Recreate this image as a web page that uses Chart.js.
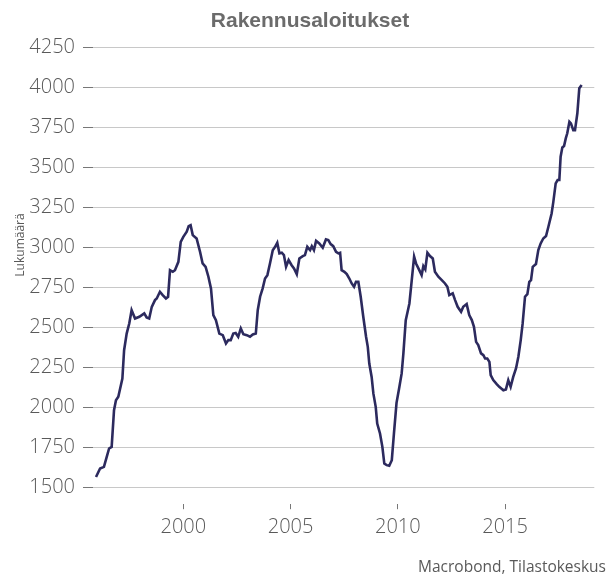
<!DOCTYPE html>
<html>
<head>
<meta charset="utf-8">
<title>Rakennusaloitukset</title>
<script src="https://cdn.jsdelivr.net/npm/chart.js@4.4.0/dist/chart.umd.min.js"></script>
<style>
  html, body { margin: 0; padding: 0; background: #fff; }
</style>
</head>
<body>
<canvas id="chart" width="616" height="579"></canvas>
<script>
// Rakennusaloitukset (luettu kuvasta), x = vuosi desimaaleina
const years = [
  1995.93, 1996.12, 1996.30, 1996.43, 1996.54, 1996.66, 1996.77, 1996.86, 1996.97, 1997.16,
  1997.24, 1997.36, 1997.48, 1997.59, 1997.75, 1997.95, 1998.18, 1998.29, 1998.41, 1998.53,
  1998.68, 1998.76, 1998.91, 1999.04, 1999.19, 1999.29, 1999.38, 1999.51, 1999.61, 1999.77,
  1999.88, 2000.00, 2000.16, 2000.25, 2000.34, 2000.44, 2000.62, 2000.78, 2000.90, 2001.04,
  2001.17, 2001.29, 2001.40, 2001.52, 2001.68, 2001.84, 2001.99, 2002.10, 2002.21, 2002.33,
  2002.44, 2002.56, 2002.68, 2002.80, 2002.96, 2003.11, 2003.24, 2003.38, 2003.47, 2003.58,
  2003.70, 2003.81, 2003.92, 2004.04, 2004.17, 2004.28, 2004.38, 2004.48, 2004.59, 2004.69,
  2004.79, 2004.91, 2005.05, 2005.16, 2005.29, 2005.41, 2005.57, 2005.67, 2005.78, 2005.91,
  2005.99, 2006.09, 2006.19, 2006.34, 2006.50, 2006.65, 2006.76, 2006.87, 2006.99, 2007.12,
  2007.23, 2007.31, 2007.38, 2007.51, 2007.62, 2007.74, 2007.85, 2007.96, 2008.05, 2008.16,
  2008.27, 2008.39, 2008.52, 2008.60, 2008.67, 2008.78, 2008.86, 2008.97, 2009.04, 2009.17,
  2009.28, 2009.37, 2009.48, 2009.60, 2009.72, 2009.82, 2009.94, 2010.06, 2010.18, 2010.26,
  2010.37, 2010.49, 2010.54, 2010.65, 2010.76, 2010.85, 2011.00, 2011.11, 2011.19, 2011.28,
  2011.38, 2011.50, 2011.63, 2011.73, 2011.89, 2012.05, 2012.20, 2012.31, 2012.40, 2012.56,
  2012.67, 2012.79, 2012.95, 2013.05, 2013.21, 2013.33, 2013.45, 2013.55, 2013.65, 2013.75,
  2013.88, 2013.99, 2014.07, 2014.17, 2014.27, 2014.33, 2014.45, 2014.61, 2014.73, 2014.92,
  2015.04, 2015.15, 2015.26, 2015.38, 2015.51, 2015.62, 2015.73, 2015.82, 2015.93, 2016.04,
  2016.13, 2016.21, 2016.29, 2016.44, 2016.55, 2016.66, 2016.78, 2016.91, 2017.02, 2017.17,
  2017.25, 2017.36, 2017.45, 2017.53, 2017.59, 2017.67, 2017.75, 2017.83, 2017.90, 2018.00,
  2018.07, 2018.18, 2018.26, 2018.37, 2018.46, 2018.57
];
const starts = [
  1567, 1620, 1630, 1693, 1745, 1755, 1984, 2047, 2068, 2182,
  2359, 2463, 2526, 2609, 2557, 2568, 2589, 2564, 2557, 2630,
  2672, 2682, 2724, 2703, 2682, 2693, 2859, 2849, 2859, 2911,
  3036, 3067, 3099, 3134, 3140, 3078, 3057, 2974, 2901, 2880,
  2818, 2745, 2578, 2547, 2463, 2453, 2401, 2422, 2422, 2463,
  2467, 2443, 2495, 2459, 2453, 2443, 2457, 2463, 2609, 2693,
  2745, 2807, 2828, 2901, 2984, 3005, 3030, 2964, 2968, 2953,
  2880, 2922, 2890, 2870, 2834, 2932, 2947, 2953, 3005, 2984,
  3009, 2984, 3042, 3026, 2999, 3051, 3047, 3022, 3009, 2974,
  2964, 2968, 2859, 2849, 2834, 2807, 2776, 2755, 2786, 2786,
  2693, 2568, 2443, 2380, 2276, 2192, 2089, 2005, 1901, 1839,
  1755, 1651, 1641, 1637, 1672, 1839, 2030, 2120, 2214, 2339,
  2547, 2620, 2651, 2797, 2943, 2901, 2859, 2828, 2884, 2864,
  2968, 2947, 2932, 2849, 2818, 2797, 2776, 2755, 2703, 2714,
  2672, 2630, 2599, 2630, 2647, 2578, 2547, 2505, 2411, 2391,
  2339, 2328, 2307, 2307, 2286, 2203, 2172, 2147, 2130, 2109,
  2114, 2172, 2130, 2192, 2245, 2318, 2422, 2526, 2693, 2709,
  2786, 2797, 2880, 2897, 2984, 3026, 3057, 3072, 3130, 3213,
  3286, 3401, 3422, 3422, 3568, 3626, 3635, 3682, 3714, 3786,
  3776, 3734, 3734, 3839, 3995, 4016
];
const yTicks = [1500, 1750, 2000, 2250, 2500, 2750, 3000, 3250, 3500, 3750, 4000, 4250];
const xTicks = [2000, 2005, 2010, 2015];

const titleText = 'Rakennusaloitukset';
const yTitle = 'Lukumäärä';
const sourceText = 'Macrobond, Tilastokeskus';

const labelFont = { family: "'Open Sans', sans-serif", size: 20, weight: '300' };
const textColor = '#595959';

// otsikko, y-akselin nimi ja lähde piirretään itse
const texts = {
  id: 'texts',
  afterDraw(chart) {
    const c = chart.ctx;
    c.save();
    c.fillStyle = '#6b6b6b';
    c.font = "bold 21px 'Liberation Sans', Arial, sans-serif";
    c.textAlign = 'center';
    c.textBaseline = 'alphabetic';
    c.fillText(titleText, 310, 27);

    c.fillStyle = textColor;
    c.font = "15.5px 'Open Sans', sans-serif";
    c.textAlign = 'right';
    c.fillText(sourceText, 606, 572);

    c.translate(24, 245);
    c.rotate(-Math.PI / 2);
    c.font = "12px 'Open Sans', sans-serif";
    c.textAlign = 'center';
    c.fillText(yTitle, 0, 0);
    c.restore();
  }
};

new Chart(document.getElementById('chart'), {
  type: 'line',
  data: {
    datasets: [{
      data: years.map((x, i) => ({ x: x, y: starts[i] })),
      borderColor: '#2c2a5e',
      borderWidth: 2.6,
      pointRadius: 0,
      tension: 0,
      fill: false
    }]
  },
  options: {
    responsive: false,
    animation: false,
    devicePixelRatio: 1,
    layout: { padding: { top: 47.5, right: 21.7, bottom: 21.8, left: 0 } },
    plugins: {
      legend: { display: false },
      tooltip: { enabled: false },
      title: { display: false }
    },
    scales: {
      x: {
        type: 'linear',
        min: 1995.79,
        max: 2019.16,
        afterBuildTicks: s => { s.ticks = xTicks.map(v => ({ value: v })); },
        afterFit: s => { s.height = 53; },
        border: { display: false },
        grid: { drawOnChartArea: false, drawTicks: true, tickLength: 5, tickColor: '#777' },
        ticks: { font: labelFont, color: textColor, padding: 6, maxRotation: 0, callback: v => String(v) }
      },
      y: {
        min: 1397,
        max: 4250,
        afterBuildTicks: s => { s.ticks = yTicks.map(v => ({ value: v })); },
        afterFit: s => { s.width = 93; },
        border: { display: false },
        grid: { color: '#c8c8c8', lineWidth: 1, drawTicks: true, tickLength: 10, tickColor: '#777' },
        ticks: { font: labelFont, color: textColor, padding: 8, callback: v => String(v) }
      }
    }
  },
  plugins: [texts]
});
</script>
</body>
</html>
